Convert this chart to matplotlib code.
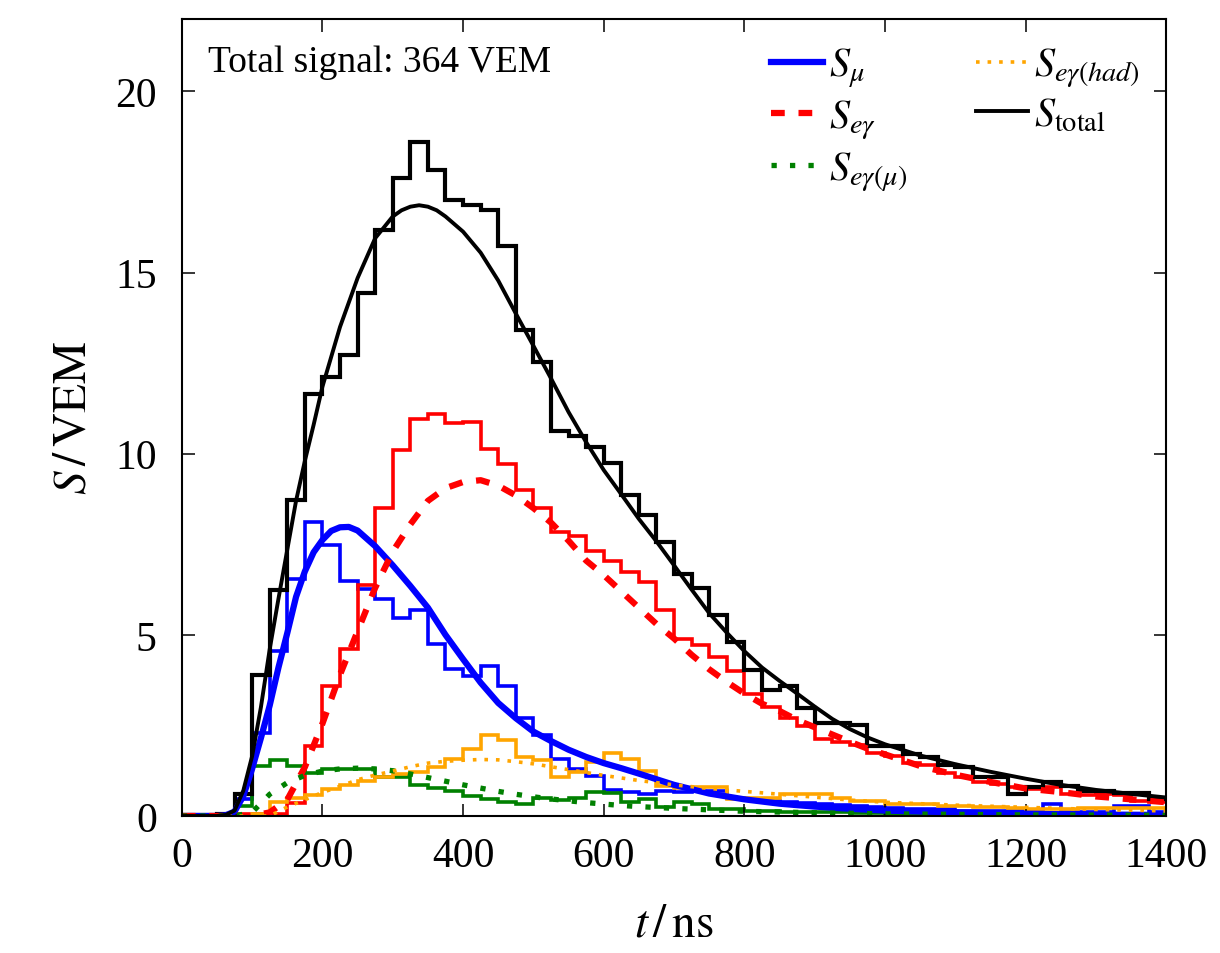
import numpy as np
import matplotlib
matplotlib.use("Agg")
import matplotlib.pyplot as plt

plt.rcParams['font.family'] = ['Liberation Serif', 'DejaVu Serif']
plt.rcParams['mathtext.fontset'] = 'stix'

# histogram bin edges in ns (25 ns bins)
edges = np.arange(0, 1425, 25)

# binned signal traces (VEM per bin)
h_total = [0.03, 0.03, 0.05, 0.61, 3.88, 6.23, 8.73, 11.64, 12.13, 12.72,
           14.44, 16.19, 17.62, 18.6, 17.82, 17.0, 16.86, 16.74, 15.73, 13.42,
           12.54, 10.63, 10.48, 10.2, 9.74, 8.87, 8.3, 7.57, 6.69, 6.3,
           5.54, 4.8, 4.02, 3.48, 3.6, 2.98, 2.58, 2.58, 2.5, 1.94,
           1.94, 1.71, 1.62, 1.4, 1.34, 1.07, 1.07, 0.61, 0.79, 0.95,
           0.84, 0.7, 0.7, 0.63, 0.63, 0.47]
h_mu = [0.02, 0.02, 0.05, 0.47, 2.3, 4.55, 6.53, 8.12, 7.49, 6.48,
        6.28, 5.99, 5.46, 5.69, 4.76, 4.05, 3.87, 4.14, 3.59, 2.7,
        2.24, 1.57, 1.31, 1.11, 0.72, 0.65, 0.61, 0.7, 0.65, 0.7,
        0.7, 0.5, 0.45, 0.42, 0.38, 0.35, 0.32, 0.3, 0.28, 0.25,
        0.22, 0.2, 0.2, 0.18, 0.15, 0.15, 0.15, 0.14, 0.14, 0.33,
        0.12, 0.12, 0.12, 0.28, 0.28, 0.1]
h_em = [0.02, 0.02, 0.03, 0.05, 0.05, 0.05, 0.35, 1.92, 3.59, 4.61,
        6.39, 8.5, 10.11, 10.96, 11.11, 10.86, 10.89, 10.14, 9.72, 9.01,
        8.5, 7.84, 7.74, 7.31, 7.03, 6.73, 6.46, 5.7, 4.88, 4.72,
        4.4, 4.0, 3.36, 3.0, 2.7, 2.49, 2.12, 2.05, 1.95, 1.75,
        1.66, 1.45, 1.42, 1.2, 1.07, 0.93, 0.88, 0.79, 0.74, 0.8,
        0.61, 0.58, 0.61, 0.58, 0.42, 0.38]
h_em_mu = [0.02, 0.02, 0.03, 0.28, 1.39, 1.54, 1.39, 1.18, 1.31, 1.29,
           1.29, 1.09, 1.07, 0.86, 0.77, 0.7, 0.56, 0.47, 0.4, 0.33,
           0.5, 0.45, 0.51, 0.65, 0.63, 0.4, 0.47, 0.24, 0.38, 0.33,
           0.19, 0.19, 0.15, 0.14, 0.12, 0.12, 0.1, 0.1, 0.08, 0.08,
           0.06, 0.06, 0.05, 0.05, 0.05, 0.04, 0.04, 0.04, 0.03, 0.03,
           0.03, 0.03, 0.03, 0.02, 0.02, 0.02]
h_em_had = [0.0, 0.0, 0.02, 0.03, 0.05, 0.4, 0.49, 0.58, 0.74, 0.86,
            0.97, 1.08, 1.17, 1.22, 1.34, 1.58, 1.85, 2.24, 2.1, 1.62,
            1.55, 1.07, 1.22, 1.48, 1.74, 1.57, 1.25, 0.84, 0.77, 0.8,
            0.8, 0.47, 0.5, 0.5, 0.61, 0.61, 0.61, 0.5, 0.42, 0.42,
            0.33, 0.33, 0.33, 0.28, 0.28, 0.26, 0.24, 0.22, 0.19, 0.19,
            0.2, 0.22, 0.22, 0.22, 0.22, 0.22]

# model traces
t_total = [0, 50, 62.5, 75, 87.5, 100, 112.5, 125, 137.5, 150, 162.5, 175,
           187.5, 200, 225, 250, 275, 300, 312.5, 325, 337.5, 350, 362.5,
           375, 400, 425, 450, 475, 500, 525, 550, 575, 600, 625, 650, 675,
           700, 725, 750, 775, 800, 825, 850, 875, 900, 925, 950, 975, 1000,
           1050, 1100, 1150, 1200, 1250, 1300, 1350, 1400]
s_total = [0.0, 0.0, 0.03, 0.15, 0.7, 1.65, 3.0, 4.6, 6.0, 7.35, 8.7, 9.8,
           10.8, 11.85, 13.5, 14.85, 15.95, 16.55, 16.72, 16.82, 16.86,
           16.82, 16.72, 16.55, 16.13, 15.55, 14.78, 13.87, 12.98, 12.08,
           11.15, 10.32, 9.55, 8.88, 8.2, 7.58, 6.92, 6.25, 5.6, 5.06, 4.55,
           4.1, 3.73, 3.38, 3.02, 2.68, 2.4, 2.17, 1.98, 1.67, 1.43, 1.22,
           1.03, 0.86, 0.72, 0.61, 0.51]

t_mu = [0, 50, 62.5, 75, 87.5, 100, 112.5, 125, 137.5, 150, 162.5, 175,
        187.5, 200, 212.5, 225, 237.5, 250, 275, 300, 325, 350, 375, 400,
        425, 450, 475, 500, 525, 550, 575, 600, 625, 650, 700, 750, 800,
        850, 900, 950, 1000, 1100, 1200, 1300, 1400]
s_mu = [0.0, 0.0, 0.02, 0.12, 0.55, 1.3, 2.15, 3.05, 4.1, 5.05, 6.05, 6.75,
        7.28, 7.62, 7.87, 7.97, 7.98, 7.88, 7.45, 6.92, 6.35, 5.75, 5.0,
        4.33, 3.68, 3.12, 2.7, 2.33, 2.07, 1.83, 1.63, 1.46, 1.32, 1.17,
        0.86, 0.62, 0.46, 0.34, 0.26, 0.2, 0.15, 0.1, 0.06, 0.04, 0.03]

t_em = [0, 100, 125, 150, 175, 200, 225, 250, 275, 300, 325, 350, 375, 400,
        425, 450, 475, 500, 525, 550, 575, 600, 625, 650, 675, 700, 725, 750,
        775, 800, 825, 850, 875, 900, 925, 950, 975, 1000, 1050, 1100, 1150,
        1200, 1250, 1300, 1350, 1400]
s_em = [0.0, 0.0, 0.1, 0.45, 1.35, 2.55, 3.9, 5.1, 6.3, 7.3, 8.05, 8.7, 9.05,
        9.22, 9.27, 9.12, 8.85, 8.5, 8.1, 7.6, 7.05, 6.65, 6.2, 5.75, 5.3,
        4.9, 4.45, 4.05, 3.7, 3.38, 3.1, 2.9, 2.65, 2.45, 2.25, 2.05, 1.86,
        1.7, 1.38, 1.14, 0.94, 0.76, 0.66, 0.54, 0.46, 0.38]

t_em_mu = [0, 75, 100, 125, 150, 175, 200, 225, 250, 275, 300, 325, 350, 375,
           400, 425, 450, 475, 500, 525, 550, 575, 600, 625, 650, 700, 750,
           800, 900, 1000, 1200, 1400]
s_em_mu = [0.0, 0.0, 0.1, 0.6, 0.92, 1.12, 1.24, 1.3, 1.32, 1.3, 1.25, 1.16,
           1.06, 0.96, 0.86, 0.77, 0.68, 0.6, 0.53, 0.47, 0.42, 0.37, 0.33,
           0.29, 0.26, 0.21, 0.17, 0.13, 0.09, 0.06, 0.03, 0.02]

t_em_had = [0, 125, 150, 175, 200, 225, 250, 275, 300, 325, 350, 375, 400,
            425, 450, 475, 500, 525, 550, 575, 600, 625, 650, 700, 750, 800,
            850, 900, 950, 1000, 1100, 1200, 1300, 1400]
s_em_had = [0.0, 0.0, 0.25, 0.45, 0.65, 0.82, 1.0, 1.13, 1.24, 1.36, 1.46,
            1.51, 1.54, 1.56, 1.55, 1.5, 1.44, 1.36, 1.28, 1.2, 1.12, 1.05,
            0.98, 0.86, 0.76, 0.68, 0.6, 0.52, 0.44, 0.38, 0.3, 0.24, 0.18,
            0.14]

total_signal = 364

fig = plt.figure(figsize=(12.2, 9.54), dpi=100)
ax = fig.add_axes([0.149, 0.1436, 0.807, 0.8354])

# histograms
ax.stairs(h_mu, edges, color='blue', lw=2.6, baseline=None)
ax.stairs(h_em, edges, color='red', lw=2.6, baseline=None)
ax.stairs(h_em_mu, edges, color='green', lw=2.6, baseline=None)
ax.stairs(h_em_had, edges, color='orange', lw=2.6, baseline=None)
ax.stairs(h_total, edges, color='black', lw=3.0, baseline=None)

# model curves
ax.plot(t_mu, s_mu, color='blue', lw=4.5, label=r'$S_{\mu}$')
ax.plot(t_em, s_em, color='red', lw=4.5, ls=(0, (2.2, 2.2)),
        label=r'$S_{e\gamma}$')
ax.plot(t_em_mu, s_em_mu, color='green', lw=3.8, ls=(0, (1, 2.5)),
        label=r'$S_{e\gamma(\mu)}$')
ax.plot(t_em_had, s_em_had, color='orange', lw=2.6, ls=(0, (1, 2.2)),
        label=r'$S_{e\gamma(had)}$')
ax.plot(t_total, s_total, color='black', lw=2.8, label=r'$S_{\mathrm{total}}$')

ax.set_xlim(0, 1400)
ax.set_ylim(0, 22)
ax.set_xticks(np.arange(0, 1401, 200))
ax.set_yticks([0, 5, 10, 15, 20])
ax.tick_params(direction='in', top=True, right=True, length=9, width=1.1,
               labelsize=30)
ax.tick_params(axis='x', pad=15)
ax.tick_params(axis='y', pad=18)
for sp in ax.spines.values():
    sp.set_linewidth(1.5)

ax.set_xlabel(r'$t\,/\,\mathrm{ns}$', fontsize=34, labelpad=20)
ax.set_ylabel(r'$S\,/\,\mathrm{VEM}$', fontsize=34, labelpad=14)

ax.text(0.027, 0.968, 'Total signal: %d VEM' % total_signal,
        transform=ax.transAxes, fontsize=27, va='top', ha='left')

ax.legend(loc='upper right', ncol=2, frameon=False, fontsize=29,
          handlelength=1.3, handletextpad=0.15, columnspacing=1.7,
          labelspacing=0.2, borderaxespad=0.25)

fig.savefig('out.png', dpi=100)
